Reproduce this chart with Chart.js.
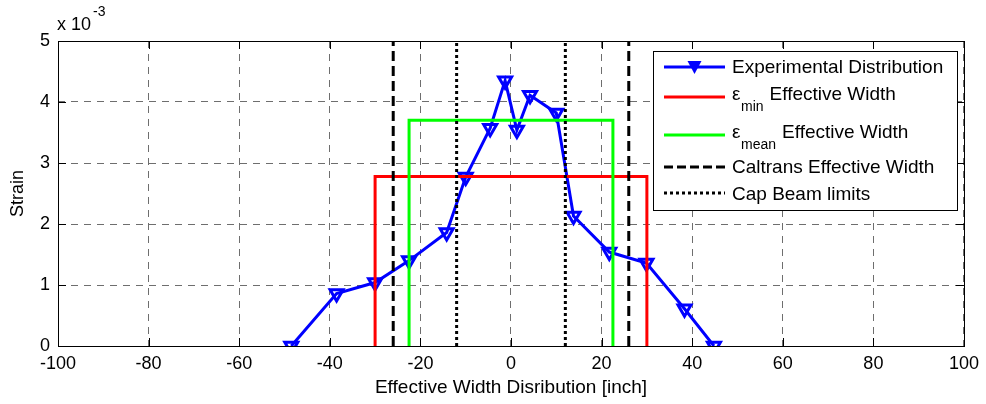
<!DOCTYPE html>
<html>
<head>
<meta charset="utf-8">
<script src="https://cdn.jsdelivr.net/npm/chart.js@4.4.1/dist/chart.umd.min.js"></script>
<style>
    html, body { margin: 0; padding: 0; background: #fff; }
</style>
</head>
<body>
<canvas id="graphCanvas" width="986" height="404"></canvas>
<script>
// measured distribution: width position [inch] and strain (x 10^-3)
var expWidth  = [-48.5, -38.5, -30, -22.5, -14.2, -10, -4.6, -1.3, 1.3, 4.2, 10, 13.8, 21.7, 29.9, 38.3, 44.8];
var expStrain = [0, 0.86, 1.04, 1.40, 1.86, 2.77, 3.57, 4.35, 3.54, 4.11, 3.82, 2.13, 1.54, 1.36, 0.61, 0];

// effective width boxes
var minWidthX  = [-30, -30, 30, 30];
var minWidthY  = [0, 2.78, 2.78, 0];
var meanWidthX = [-22.5, -22.5, 22.5, 22.5];
var meanWidthY = [0, 3.7, 3.7, 0];

// vertical limits
var caltransX = [-26, 26];
var capBeamX  = [-12, 12];
var limitLow = 0, limitHigh = 5;

var xMin = -100, xMax = 100, xStep = 20;
var yMin = 0, yMax = 5, yStep = 1;

var FONT = "'Liberation Sans', Arial, sans-serif";

function toPoints(xs, ys) {
    var pts = [];
    for (var i in xs) pts.push({x: xs[i], y: ys[i]});
    return pts;
}
function vline(x) {
    return [{x: x, y: limitLow}, {x: x, y: limitHigh}];
}

var lineBase = {showLine: true, pointRadius: 0, borderWidth: 3, fill: false};

var datasets = [
    {
        label: 'Experimental Distribution',
        data: toPoints(expWidth, expStrain),
        showLine: true,
        borderColor: '#0000ff',
        borderWidth: 3,
        pointStyle: 'triangle',
        rotation: 180,
        pointRadius: 7.5,
        pointBorderWidth: 3,
        pointBorderColor: '#0000ff',
        pointBackgroundColor: 'rgba(255,255,255,0)',
        order: 6
    },
    Object.assign({}, lineBase, {label: 'min', data: toPoints(minWidthX, minWidthY), borderColor: '#ff0000', order: 5}),
    Object.assign({}, lineBase, {label: 'mean', data: toPoints(meanWidthX, meanWidthY), borderColor: '#00ff00', order: 4}),
    Object.assign({}, lineBase, {label: 'caltransL', data: vline(caltransX[0]), borderColor: '#000', borderDash: [10, 5], order: 3}),
    Object.assign({}, lineBase, {label: 'caltransR', data: vline(caltransX[1]), borderColor: '#000', borderDash: [10, 5], order: 3}),
    Object.assign({}, lineBase, {label: 'capL', data: vline(capBeamX[0]), borderColor: '#000', borderDash: [3, 3], order: 2}),
    Object.assign({}, lineBase, {label: 'capR', data: vline(capBeamX[1]), borderColor: '#000', borderDash: [3, 3], order: 2})
];

// axes box, inward ticks, exponent label and legend, drawn like the matlab figure
var framePlugin = {
    id: 'frame',
    afterDraw: function (chart) {
        var ctx = chart.ctx;
        var a = chart.chartArea;
        var xs = chart.scales.x, ys = chart.scales.y;
        ctx.save();
        ctx.strokeStyle = '#000';
        ctx.lineWidth = 1;
        ctx.setLineDash([]);
        ctx.strokeRect(Math.round(a.left) + 0.5, Math.round(a.top) + 0.5, Math.round(a.right - a.left), Math.round(a.bottom - a.top));
        ctx.beginPath();
        var tl = 8;
        xs.ticks.forEach(function (t) {
            var px = Math.round(xs.getPixelForValue(t.value)) + 0.5;
            ctx.moveTo(px, a.bottom); ctx.lineTo(px, a.bottom - tl);
            ctx.moveTo(px, a.top); ctx.lineTo(px, a.top + tl);
        });
        ys.ticks.forEach(function (t) {
            var py = Math.round(ys.getPixelForValue(t.value)) + 0.5;
            ctx.moveTo(a.left, py); ctx.lineTo(a.left + tl, py);
            ctx.moveTo(a.right, py); ctx.lineTo(a.right - tl, py);
        });
        ctx.stroke();

        // exponent
        ctx.fillStyle = '#000';
        ctx.textBaseline = 'alphabetic';
        ctx.textAlign = 'left';
        ctx.font = '18px ' + FONT;
        ctx.fillText('x 10', a.left - 1, 30);
        ctx.font = '14px ' + FONT;
        ctx.fillText('-3', a.left + 35, 16);

        // legend
        var bx = 653, by = 51, bw = 304, bh = 159;
        ctx.fillStyle = '#fff';
        ctx.fillRect(bx, by, bw, bh);
        ctx.strokeRect(bx + 0.5, by + 0.5, bw, bh);
        var lx1 = 664, lx2 = 725, tx = 732;
        function sample(y, color, dash) {
            ctx.beginPath();
            ctx.setLineDash(dash);
            ctx.strokeStyle = color;
            ctx.lineWidth = 3;
            ctx.moveTo(lx1, y); ctx.lineTo(lx2, y);
            ctx.stroke();
            ctx.setLineDash([]);
        }
        sample(67, '#0000ff', []);
        ctx.beginPath();
        ctx.fillStyle = '#0000ff';
        ctx.moveTo(687.5, 61); ctx.lineTo(701.5, 61); ctx.lineTo(694.5, 74);
        ctx.closePath();
        ctx.fill();
        sample(97, '#ff0000', []);
        sample(135, '#00ff00', []);
        sample(167, '#000', [9, 4]);
        sample(193, '#000', [3, 3]);

        var big = '19px ' + FONT, small = '14px ' + FONT;
        ctx.fillStyle = '#000';
        ctx.textBaseline = 'middle';
        ctx.font = big;
        ctx.fillText('Experimental Distribution', tx, 68);
        ctx.fillText('\u03b5', tx, 95);
        ctx.fillText('\u03b5', tx, 133);
        ctx.fillText('Caltrans Effective Width', tx, 168);
        ctx.fillText('Cap Beam limits', tx, 195);
        ctx.font = small;
        ctx.fillText('min', tx + 9, 107);
        ctx.fillText('mean', tx + 9, 145);
        var minW = ctx.measureText('min').width, meanW = ctx.measureText('mean').width;
        ctx.font = big;
        ctx.fillText('Effective Width', tx + 9 + minW + 6, 95);
        ctx.fillText('Effective Width', tx + 9 + meanW + 6, 133);
        ctx.restore();
    }
};

var graphTarget = document.getElementById('graphCanvas');

var chart = new Chart(graphTarget, {
    type: 'scatter',
    data: {datasets: datasets},
    options: {
        responsive: false,
        animation: false,
        layout: {padding: {top: 41, right: 21, left: 0, bottom: 0}},
        plugins: {legend: {display: false}, tooltip: {enabled: false}},
        scales: {
            x: {
                type: 'linear',
                min: xMin, max: xMax,
                ticks: {stepSize: xStep, color: '#000', font: {family: FONT, size: 18}, padding: 7, maxRotation: 0},
                grid: {color: '#6e6e6e', lineWidth: 1, drawTicks: false},
                border: {display: false, dash: [7, 6]},
                title: {display: true, text: 'Effective Width Disribution [inch]', color: '#000', font: {family: FONT, size: 19}, padding: {top: 0, bottom: 5}},
                afterFit: function (s) { s.height = 58; }
            },
            y: {
                type: 'linear',
                min: yMin, max: yMax,
                ticks: {stepSize: yStep, color: '#000', font: {family: FONT, size: 18}, padding: 8},
                grid: {color: '#6e6e6e', lineWidth: 1, drawTicks: false},
                border: {display: false, dash: [7, 6]},
                title: {display: true, text: 'Strain', color: '#000', font: {family: FONT, size: 18}, padding: {top: 7, bottom: 0}},
                afterFit: function (s) { s.width = 58; }
            }
        }
    },
    plugins: [framePlugin]
});
</script>
</body>
</html>
